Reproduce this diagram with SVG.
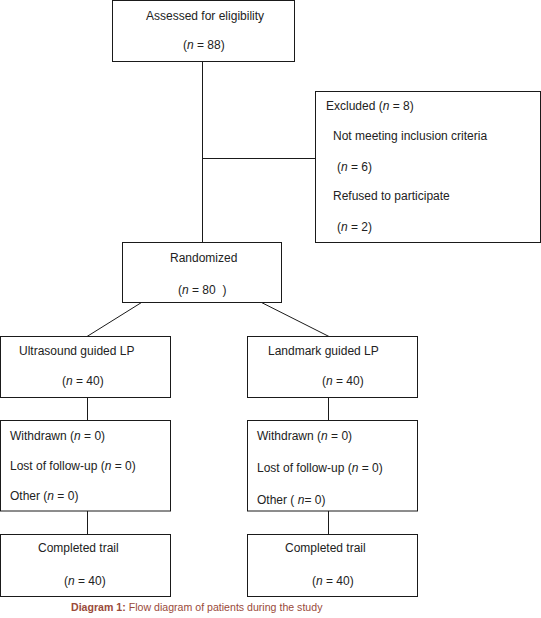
<svg xmlns="http://www.w3.org/2000/svg" width="541" height="618" viewBox="0 0 541 618">
<style>
.box{fill:#fff;stroke:#1a1a1a;stroke-width:1}
.ln{fill:none;stroke:#1a1a1a;stroke-width:1}
text{font-family:"Liberation Sans",Arial,sans-serif;font-size:12px;fill:#222}
.i{font-style:italic}
.cap{font-size:10.6px;fill:#9a4a3a}
.b{font-weight:bold}
</style>
<rect width="541" height="618" fill="#fff"/>
<g id="connectors">
<line class="ln" x1="202.5" y1="61.5" x2="202.5" y2="242.5"/>
<line class="ln" x1="202.5" y1="158.5" x2="315.5" y2="158.5"/>
<line class="ln" x1="141.5" y1="302.5" x2="87" y2="336.5"/>
<line class="ln" x1="261.5" y1="302.5" x2="329" y2="336.5"/>
<line class="ln" x1="87.5" y1="397.5" x2="87.5" y2="420.5"/>
<line class="ln" x1="328.5" y1="397.5" x2="328.5" y2="420.5"/>
<line class="ln" x1="87.5" y1="511" x2="87.5" y2="534.5"/>
<line class="ln" x1="328.5" y1="511" x2="328.5" y2="534.5"/>
</g>
<g id="assessed">
<rect class="box" x="112.5" y="0.5" width="182" height="61"/>
<text x="146" y="20">Assessed for eligibility</text>
<text x="183" y="49">(<tspan class="i">n</tspan> = 88)</text>
</g>
<g id="excluded">
<rect class="box" x="315.5" y="91.5" width="225" height="151"/>
<text x="326" y="110">Excluded (<tspan class="i">n</tspan> = 8)</text>
<text x="333" y="140">Not meeting inclusion criteria</text>
<text x="337" y="171">(<tspan class="i">n</tspan> = 6)</text>
<text x="333" y="200">Refused to participate</text>
<text x="337" y="231">(<tspan class="i">n</tspan> = 2)</text>
</g>
<g id="randomized">
<rect class="box" x="122.5" y="242.5" width="159" height="60"/>
<text x="170" y="262">Randomized</text>
<text x="178" y="294">(<tspan class="i">n</tspan> = 80 &#160;)</text>
</g>
<g id="ultrasound">
<rect class="box" x="0.5" y="336.5" width="170" height="61"/>
<text x="19" y="355">Ultrasound guided LP</text>
<text x="62" y="385">(<tspan class="i">n</tspan> = 40)</text>
</g>
<g id="landmark">
<rect class="box" x="247.5" y="336.5" width="170" height="61"/>
<text x="268" y="355">Landmark guided LP</text>
<text x="322" y="385">(<tspan class="i">n</tspan> = 40)</text>
</g>
<g id="withdrawn-left">
<rect class="box" x="0.5" y="420.5" width="170" height="90.5"/>
<text x="10" y="440">Withdrawn (<tspan class="i">n</tspan> = 0)</text>
<text x="10" y="470">Lost of follow-up (<tspan class="i">n</tspan> = 0)</text>
<text x="10" y="500">Other (<tspan class="i">n</tspan> = 0)</text>
</g>
<g id="withdrawn-right">
<rect class="box" x="247.5" y="420.5" width="170" height="90.5"/>
<text x="257" y="440">Withdrawn (<tspan class="i">n</tspan> = 0)</text>
<text x="257" y="472">Lost of follow-up (<tspan class="i">n</tspan> = 0)</text>
<text x="257" y="504">Other ( <tspan class="i">n</tspan>= 0)</text>
</g>
<g id="completed-left">
<rect class="box" x="0.5" y="534.5" width="170" height="62"/>
<text x="38" y="552">Completed trail</text>
<text x="64" y="585">(<tspan class="i">n</tspan> = 40)</text>
</g>
<g id="completed-right">
<rect class="box" x="247.5" y="534.5" width="170" height="62"/>
<text x="285" y="552">Completed trail</text>
<text x="312" y="585">(<tspan class="i">n</tspan> = 40)</text>
</g>
<text class="cap" x="71" y="611"><tspan class="b">Diagram 1:</tspan> Flow diagram of patients during the study</text>
</svg>
